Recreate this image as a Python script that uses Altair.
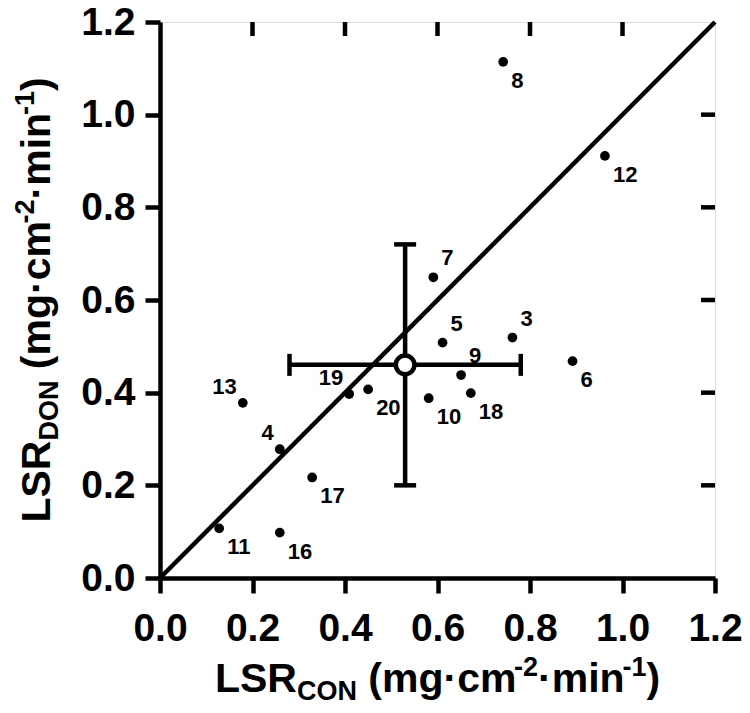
import altair as alt
import pandas as pd

# ---------------- data ----------------
ids = [3, 4, 5, 6, 7, 8, 9, 10, 11, 12, 13, 16, 17, 18, 19, 20]
lsr_con = [0.762, 0.259, 0.611, 0.892, 0.591, 0.742, 0.651, 0.581,
           0.128, 0.962, 0.179, 0.259, 0.329, 0.672, 0.409, 0.450]
lsr_don = [0.519, 0.278, 0.508, 0.468, 0.649, 1.114, 0.438, 0.388,
           0.107, 0.911, 0.378, 0.098, 0.217, 0.399, 0.397, 0.407]
label_side = ["tr", "tl", "tr", "br", "tr", "br", "tr", "br",
              "br", "br", "tl", "br", "br", "br", "tl", "br"]

mean_con, sd_con = 0.53, 0.25
mean_don, sd_don = 0.46, 0.26

axis_ticks = [0.0, 0.2, 0.4, 0.6, 0.8, 1.0, 1.2]
inner_ticks = [0.2, 0.4, 0.6, 0.8, 1.0]
identity = [0.0, 1.2]

# title pieces: (text, role, gap-before in em of a space)
x_title = [("LSR", "main", 0), ("CON", "sub", 0), ("(mg\u00b7cm", "main", 1), ("-2", "sup", 0),
           ("\u00b7min", "main", 0), ("-1", "sup", 0), (")", "main", 0)]
y_title = [("LSR", "main", 0), ("DON", "sub", 0), ("(mg\u00b7cm", "main", 1), ("-2", "sup", 0),
           ("\u00b7min", "main", 0), ("-1", "sup", 0), (")", "main", 0)]

# ---------------- layout / style ----------------
W, H = 555, 556
FONT = "Liberation Sans"
LW = 4.5
MAIN_FS, SMALL_FS = 41, 27
SUB_OFF, SUP_OFF = 8, -16
TICK_FS = 39

# Arial/Liberation Sans Bold advance widths (per 1000 em)
ADV = {'L': 611, 'S': 667, 'R': 722, 'C': 722, 'O': 778, 'N': 722, 'D': 722,
       ' ': 278, '(': 333, ')': 333, 'm': 889, 'g': 611, '\u00b7': 278,
       'c': 556, '-': 333, '2': 556, '1': 556, 'i': 278, 'n': 611}


def seg_width(txt, fs):
    return sum(ADV.get(ch, 556) for ch in txt) * fs / 1000.0


pts = pd.DataFrame({"id": ids, "x": lsr_con, "y": lsr_don, "side": label_side})
diag = pd.DataFrame({"x": identity, "y": identity})
summ = pd.DataFrame({"x": [mean_con], "y": [mean_don],
                     "xlo": [mean_con - sd_con], "xhi": [mean_con + sd_con],
                     "ylo": [mean_don - sd_don], "yhi": [mean_don + sd_don]})
tk = pd.DataFrame({"v": inner_ticks})
one = pd.DataFrame({"a": [0]})

xs = alt.Scale(domain=[0, 1.2], nice=False)
ys = alt.Scale(domain=[0, 1.2], nice=False)

common_axis = dict(values=axis_ticks, format=".1f", title=None, grid=False,
                   labelFont=FONT, labelFontSize=TICK_FS, labelFontWeight="bold",
                   labelColor="black", domainColor="black", domainWidth=LW,
                   tickColor="black", tickWidth=LW, tickSize=15,
                   labelFlush=False, labelOverlap=False, labelBound=False)
xaxis = alt.Axis(labelPadding=16, **common_axis)
yaxis = alt.Axis(labelPadding=10, **common_axis)

X = alt.X("x:Q", scale=xs, axis=xaxis)
Y = alt.Y("y:Q", scale=ys, axis=yaxis)

line = alt.Chart(diag).mark_line(color="black", strokeWidth=LW).encode(x=X, y=Y)

points = alt.Chart(pts).mark_circle(size=95, color="black", opacity=1).encode(x=X, y=Y)

lab_style = dict(font=FONT, fontSize=22, fontWeight="bold", color="black", baseline="middle")
lab_br = alt.Chart(pts).transform_filter(alt.datum.side == "br").mark_text(
    align="left", dx=8, dy=19, **lab_style).encode(x=X, y=Y, text="id:N")
lab_tr = alt.Chart(pts).transform_filter(alt.datum.side == "tr").mark_text(
    align="left", dx=8, dy=-19, **lab_style).encode(x=X, y=Y, text="id:N")
lab_tl = alt.Chart(pts).transform_filter(alt.datum.side == "tl").mark_text(
    align="right", dx=-6, dy=-16, **lab_style).encode(x=X, y=Y, text="id:N")

err_x = alt.Chart(summ).mark_rule(color="black", strokeWidth=LW).encode(
    x=alt.X("xlo:Q", scale=xs), x2="xhi:Q", y=alt.Y("y:Q", scale=ys))
err_y = alt.Chart(summ).mark_rule(color="black", strokeWidth=LW).encode(
    y=alt.Y("ylo:Q", scale=ys), y2="yhi:Q", x=alt.X("x:Q", scale=xs))
cap_style = dict(color="black", thickness=LW, size=22, opacity=1)
cap_xlo = alt.Chart(summ).mark_tick(orient="vertical", **cap_style).encode(
    x=alt.X("xlo:Q", scale=xs), y=alt.Y("y:Q", scale=ys))
cap_xhi = alt.Chart(summ).mark_tick(orient="vertical", **cap_style).encode(
    x=alt.X("xhi:Q", scale=xs), y=alt.Y("y:Q", scale=ys))
cap_ylo = alt.Chart(summ).mark_tick(orient="horizontal", **cap_style).encode(
    y=alt.Y("ylo:Q", scale=ys), x=alt.X("x:Q", scale=xs))
cap_yhi = alt.Chart(summ).mark_tick(orient="horizontal", **cap_style).encode(
    y=alt.Y("yhi:Q", scale=ys), x=alt.X("x:Q", scale=xs))
mean_pt = alt.Chart(summ).mark_point(shape="circle", filled=True, fill="white", stroke="black",
                                     strokeWidth=LW, size=350, opacity=1).encode(x=X, y=Y)

top_ticks = alt.Chart(tk).mark_rule(color="black", strokeWidth=LW).encode(
    x=alt.X("v:Q", scale=xs), y=alt.value(0), y2=alt.value(14))
right_ticks = alt.Chart(tk).mark_rule(color="black", strokeWidth=LW).encode(
    y=alt.Y("v:Q", scale=ys), x=alt.value(W), x2=alt.value(W - 14))


# ---------------- composed axis titles ----------------
def fs_of(role):
    return MAIN_FS if role == "main" else SMALL_FS


def title_layers(segs, horizontal):
    space = seg_width(" ", MAIN_FS)
    total = sum(seg_width(t, fs_of(r)) + g * space for t, r, g in segs)
    layers = []
    cum = 0.0
    for txt, role, gap in segs:
        cum += gap * space
        fs = fs_of(role)
        off = SUB_OFF if role == "sub" else (SUP_OFF if role == "sup" else 0)
        mk = dict(font=FONT, fontSize=fs, fontWeight="bold", color="black",
                  align="left", baseline="alphabetic")
        if horizontal:
            start = W / 2 - total / 2
            px, py = start + cum, H + 114 + off
        else:
            start = H / 2 + total / 2
            px, py = -110 + off, start - cum
            mk["angle"] = 270
        layers.append(alt.Chart(one).mark_text(**mk).encode(
            x=alt.value(px), y=alt.value(py), text=alt.value(txt)))
        cum += seg_width(txt, fs)
    return layers


titles = title_layers(x_title, True) + title_layers(y_title, False)

chart = alt.layer(
    line, err_x, err_y, cap_xlo, cap_xhi, cap_ylo, cap_yhi,
    points, lab_br, lab_tr, lab_tl, mean_pt, top_ticks, right_ticks, *titles
).properties(
    width=W, height=H,
    autosize=alt.AutoSizeParams(type="none"),
    padding={"left": 152, "top": 14, "right": 27, "bottom": 125},
).configure_view(stroke="black", strokeWidth=LW).configure(background="white")

chart.save("out.html", embed_options={"renderer": "svg", "actions": False})
